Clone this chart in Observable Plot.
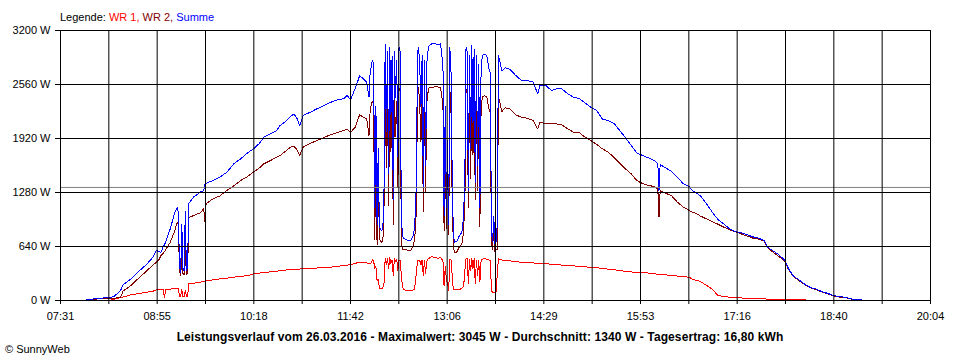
<!DOCTYPE html>
<html><head><meta charset="utf-8">
<script src="https://cdn.jsdelivr.net/npm/d3@7"></script>
<script src="https://cdn.jsdelivr.net/npm/@observablehq/plot@0.6"></script>
<style>
html,body{margin:0;padding:0;background:#fff;}
#chart{width:960px;height:360px;}
</style></head><body><div id="chart"></div>
<script>
const times = [
"07:53","07:58","08:03","08:08","08:12","08:14","08:17","08:20","08:23","08:25",
"08:32","08:38","08:46","08:51","08:54","08:56","08:58","09:00","09:01","09:02",
"09:06","09:10","09:12","09:13","09:14","09:15","09:16","09:17","09:18","09:19",
"09:20","09:21","09:22","09:26","09:32","09:35","09:36","09:37","09:43","09:49",
"09:55","10:01","10:07","10:13","10:18","10:23","10:27","10:33","10:38","10:41",
"10:45","10:50","10:53","10:56","10:58","11:01","11:07","11:13","11:19","11:25",
"11:31","11:36","11:39","11:42","11:46","11:50","11:53","11:56","11:58","11:59",
"12:00","12:01","12:02","12:03","12:04","12:05","12:06","12:07","12:08","12:09",
"12:10","12:11","12:12","12:13","12:14","12:15","12:16","12:17","12:18","12:19",
"12:20","12:21","12:22","12:23","12:24","12:25","12:26","12:27","12:28","12:30",
"12:32","12:34","12:36","12:37","12:38","12:39","12:40","12:41","12:42","12:43",
"12:44","12:45","12:46","12:47","12:48","12:49","12:50","12:52","12:55","12:58",
"13:00","13:01","13:02","13:03","13:04","13:05","13:06","13:07","13:08","13:09",
"13:10","13:11","13:12","13:14","13:16","13:18","13:19","13:20","13:21","13:22",
"13:23","13:24","13:25","13:26","13:27","13:28","13:29","13:30","13:31","13:32",
"13:33","13:34","13:35","13:36","13:38","13:40","13:42","13:43","13:44","13:45",
"13:46","13:47","13:48","13:49","13:50","13:51","13:53","13:56","14:00","14:05",
"14:10","14:15","14:20","14:24","14:26","14:31","14:36","14:40","14:45","14:50",
"14:55","15:00","15:05","15:10","15:15","15:20","15:25","15:30","15:35","15:40",
"15:45","15:50","15:55","16:00","16:05","16:08","16:09","16:10","16:15","16:20",
"16:25","16:30","16:35","16:38","16:40","16:45","16:50","16:55","17:00","17:05",
"17:10","17:15","17:20","17:25","17:30","17:35","17:40","17:43","17:48","17:53",
"17:58","18:01","18:05","18:10","18:15","18:20","18:25","18:30","18:35","18:40",
"18:45","18:50","18:55","18:58","19:02","19:06"
];
// Summe (blue)
const summe = [
5,15,25,30,35,35,45,80,118,185,
257,336,435,513,593,580,572,640,660,691,
850,1047,1098,1050,400,336,900,380,350,1050,
360,400,1150,1224,1284,1304,1383,1390,1422,1461,
1521,1620,1680,1750,1798,1860,1935,1980,2010,2074,
2113,2180,2212,2150,2074,2193,2230,2272,2310,2350,
2380,2390,2430,2380,2509,2667,2627,2588,2410,2700,
2780,2850,2800,1100,2300,900,1800,880,840,830,
850,1300,3040,2000,2950,1500,3000,2200,2900,1200,
2950,2400,2850,1700,3000,2950,1000,760,740,720,
711,711,760,830,1000,1400,2950,3000,2750,2300,
2900,1350,2850,1600,2800,2950,3020,3040,3045,3030,
3040,2900,2850,1000,2300,1100,1900,900,3000,2700,
1500,790,690,700,760,800,850,1050,1500,3000,
2950,1300,2900,1800,3020,2100,2980,1400,2900,1600,
2800,1100,2700,2900,2920,2900,2740,2700,800,700,
1000,672,700,900,2904,2850,2720,2757,2740,2667,
2607,2607,2590,2450,2548,2548,2489,2509,2509,2450,
2410,2395,2340,2291,2252,2150,2133,2100,2015,1930,
1837,1746,1718,1690,1660,1620,1304,1610,1570,1530,
1461,1383,1350,1300,1284,1240,1150,1050,960,909,
850,815,805,780,755,740,711,632,585,540,
474,380,296,245,195,155,135,105,85,59,
45,39,20,12,8,5
];
// WR 2 (dark red)
const wr2 = [
5,12,18,22,25,28,28,30,35,110,
178,257,356,420,454,480,533,560,580,600,
690,830,928,900,340,300,500,320,300,600,
310,330,980,1007,1040,1087,930,1146,1205,1240,
1304,1360,1422,1470,1521,1570,1620,1660,1698,1718,
1760,1817,1830,1780,1718,1817,1860,1896,1930,1967,
1990,2015,2030,1990,2054,2204,2170,2153,1956,2250,
2330,2360,2330,720,1900,660,1550,730,700,692,
700,1100,2540,1580,2450,1120,2490,1760,2420,900,
2450,1940,2360,1340,2520,2480,700,600,605,600,
596,593,635,700,800,1070,2476,2520,2280,1880,
2420,1050,2380,1280,2340,2460,2520,2520,2535,2530,
2530,2410,2370,830,1900,850,1700,780,2510,2220,
1200,660,565,574,630,660,700,870,1140,2510,
2450,1100,2420,1450,2520,1720,2485,1200,2420,1300,
2330,880,2230,2410,2425,2410,2260,2220,690,600,
900,574,600,600,2410,2360,2240,2283,2270,2200,
2172,2160,2133,2035,2113,2094,2094,2094,2080,2035,
1995,1990,1935,1896,1850,1798,1758,1698,1625,1560,
1500,1420,1385,1363,1351,1320,987,1300,1270,1240,
1165,1106,1070,1045,1040,1000,968,935,905,870,
840,815,790,765,740,728,705,625,570,520,
460,370,290,237,190,150,130,100,80,55,
40,35,18,10,5,3
];
// WR 1 (red)
const wr1 = [
null,null,null,null,null,3,15,25,32,40,
67,80,98,110,126,128,130,132,30,135,
136,138,138,138,47,47,130,47,45,120,
47,50,198,205,215,229,230,232,245,257,
265,277,285,295,316,325,330,340,345,356,
360,365,370,372,373,375,380,385,390,395,
405,415,420,423,440,454,450,445,435,440,
445,480,470,380,400,240,250,150,140,138,
150,200,500,420,500,380,510,440,480,300,
500,460,490,360,480,470,300,160,135,118,
115,118,125,130,200,330,474,480,470,420,
480,300,470,320,460,490,500,520,510,500,
510,490,480,170,400,250,200,120,490,480,
300,130,125,126,130,140,150,180,360,490,
500,200,480,350,500,380,495,200,480,300,
470,220,470,490,495,490,480,480,110,98,
100,98,100,300,494,490,480,474,470,458,
455,450,445,440,438,435,430,425,420,415,
410,405,398,395,390,380,372,365,355,345,
338,335,330,325,316,312,310,310,303,296,
290,282,277,250,245,225,180,135,59,47,
40,32,30,28,25,22,20,15,8,8,
8,8,8,8,6,5,5,4,3,3,
2,1,1,0,null,null
];
const xTickLabels = ["07:31","08:55","10:18","11:42","13:06","14:29","15:53","17:16","18:40","20:04"];
const yTicks = [0, 640, 1280, 1920, 2560, 3200];
const average = 1340;
const seriesNames = ["WR 1", "WR 2", "Summe"];
const seriesColors = ["#ff0000", "#800000", "#0000ff"];
const legendPrefix = "Legende: ";
const titleText = "Leistungsverlauf vom 26.03.2016 - Maximalwert: 3045 W - Durchschnitt: 1340 W - Tagesertrag: 16,80 kWh";
const creditText = "© SunnyWeb";

const toMin = s => +s.slice(0, 2) * 60 + +s.slice(3, 5);
const x0 = toMin(xTickLabels[0]);
const x1 = toMin(xTickLabels[xTickLabels.length - 1]);
const step = (x1 - x0) / 18;
const gridX = d3.range(19).map(k => x0 + k * step);
const rows = times.map((t, i) => ({t: toMin(t), s: summe[i], w2: wr2[i], w1: wr1[i]}));
const font = '"Liberation Sans", Arial, sans-serif';

const svg = Plot.plot({
  width: 960, height: 360,
  marginLeft: 60, marginRight: 30, marginTop: 30, marginBottom: 60,
  style: {fontFamily: font, fontSize: "11px", color: "black", background: "white", overflow: "visible"},
  x: {type: "linear", domain: [x0, x1]},
  y: {domain: [0, 3200]},
  marks: [
    Plot.line(rows, {x: "t", y: "w1", stroke: seriesColors[0], strokeWidth: 1, shapeRendering: "crispEdges"}),
    Plot.line(rows, {x: "t", y: "w2", stroke: seriesColors[1], strokeWidth: 1, shapeRendering: "crispEdges"}),
    Plot.line(rows, {x: "t", y: "s", stroke: seriesColors[2], strokeWidth: 1, shapeRendering: "crispEdges"}),
    Plot.ruleY([average], {stroke: "#808080", strokeWidth: 1}),
    Plot.ruleX(gridX, {stroke: "black", strokeWidth: 1}),
    Plot.ruleY(yTicks, {stroke: "black", strokeWidth: 1}),
    Plot.axisY({ticks: yTicks, tickFormat: d => d + " W", tickSize: 5, tickPadding: 5, label: null}),
    Plot.axisX({ticks: gridX, tickSize: 4, tickPadding: 8, label: null,
      tickFormat: d => { const k = Math.round((d - x0) / step); return k % 2 === 0 ? xTickLabels[k / 2] : ""; }})
  ]
});
document.getElementById("chart").appendChild(svg);

const s = d3.select(svg);
const leg = s.append("text").attr("x", 60).attr("y", 21).attr("text-anchor", "start")
  .attr("font-family", font).attr("font-size", 11).attr("fill", "black");
leg.append("tspan").text(legendPrefix);
seriesNames.forEach((n, i) => {
  leg.append("tspan").attr("fill", seriesColors[i]).text(n + (i < seriesNames.length - 1 ? ", " : ""));
});
s.append("text").attr("x", 480).attr("y", 341).attr("text-anchor", "middle")
  .attr("font-family", font).attr("font-size", 12).attr("font-weight", "bold").attr("fill", "black")
  .attr("letter-spacing", "0.1px")
  .text(titleText);
s.append("text").attr("x", 5).attr("y", 353).attr("text-anchor", "start")
  .attr("font-family", font).attr("font-size", 11).attr("fill", "black")
  .text(creditText);
</script></body></html>
